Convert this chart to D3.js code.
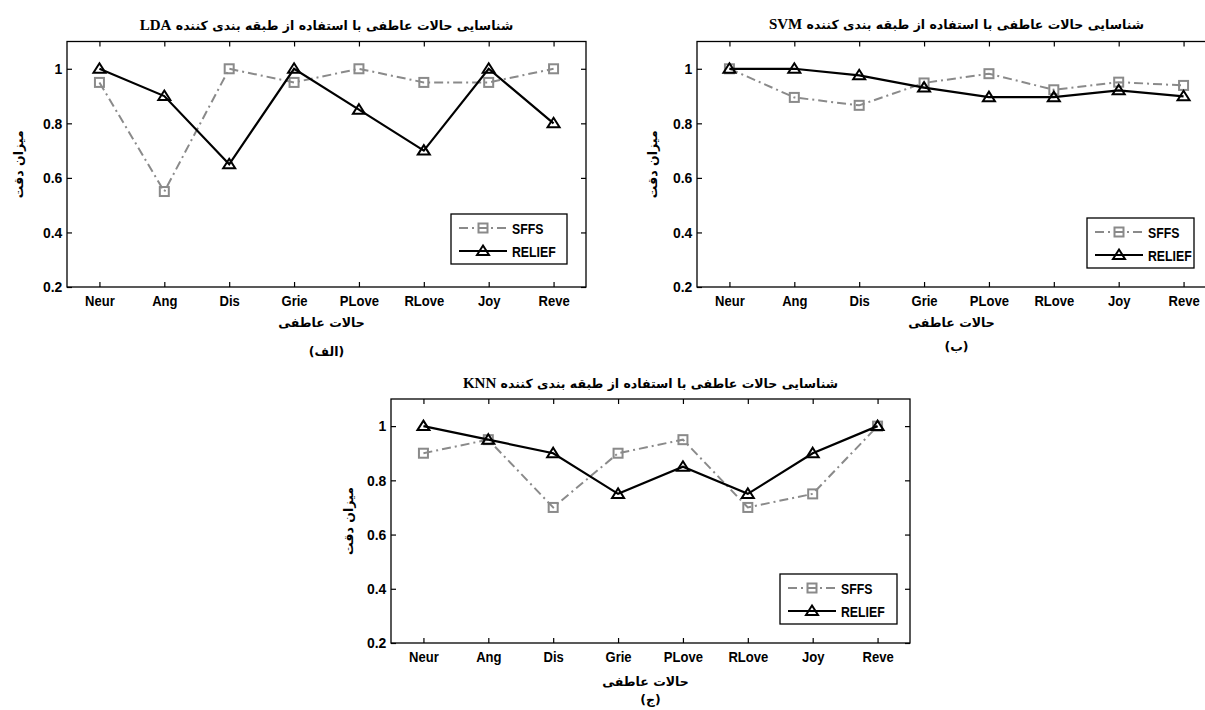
<!DOCTYPE html>
<html>
<head>
<meta charset="utf-8">
<script src="https://cdn.jsdelivr.net/npm/d3@7"></script>
<style>
  body { margin: 0; background: #fff; }
  .tick text { font-family: "Liberation Sans", Arial, sans-serif; font-weight: bold; font-size: 15px; fill: #000; }
  .fa { font-family: "DejaVu Sans", sans-serif; font-weight: bold; }
</style>
</head>
<body>
<div id="chart"></div>
<script>
// categories and values
var categories = ["Neur", "Ang", "Dis", "Grie", "PLove", "RLove", "Joy", "Reve"];
var ldaSffs = [0.95, 0.55, 1.0, 0.95, 1.0, 0.95, 0.95, 1.0];
var ldaRelief = [1.0, 0.9, 0.65, 1.0, 0.85, 0.7, 1.0, 0.8];
var svmSffs = [1.0, 0.895, 0.866, 0.948, 0.982, 0.923, 0.951, 0.939];
var svmRelief = [1.0, 1.0, 0.976, 0.931, 0.896, 0.896, 0.921, 0.899];
var knnSffs = [0.9, 0.95, 0.7, 0.9, 0.95, 0.7, 0.75, 1.0];
var knnRelief = [1.0, 0.95, 0.9, 0.75, 0.85, 0.75, 0.9, 1.0];
var yTicks = [0.2, 0.4, 0.6, 0.8, 1];
var seriesNames = ["SFFS", "RELIEF"];
var classifiers = ["LDA", "SVM", "KNN"];
var captions = ["(الف)", "(ب)", "(ج)"];
var titleText = "شناسایی حالات عاطفی با استفاده از طبقه بندی کننده";
var xTitle = "حالات عاطفی";
var yTitle = "میزان دقت";

var w = 1205, h = 710;

// panel layout (pixels)
var panels = [
    { name: classifiers[0], sffs: ldaSffs, relief: ldaRelief, cap: captions[0],
      x0: 67, x1: 586, y0: 41.5, y1: 287, titleY: 25, xTitleY: 327, capY: 356, yLabX: 18,
      leg: { x: 451, y: 214, w: 116 } },
    { name: classifiers[1], sffs: svmSffs, relief: svmRelief, cap: captions[1],
      x0: 697, x1: 1216, y0: 41.5, y1: 287, titleY: 24, xTitleY: 327, capY: 351, yLabX: 652,
      leg: { x: 1087, y: 218, w: 107 } },
    { name: classifiers[2], sffs: knnSffs, relief: knnRelief, cap: captions[2],
      x0: 391, x1: 910, y0: 399, y1: 643, titleY: 383, xTitleY: 686, capY: 704, yLabX: 348,
      leg: { x: 780, y: 574, w: 117 } }
];

var svg = d3.select("#chart").append("svg")
    .attr("width", w)
    .attr("height", h);

var grey = "#8a8a8a";
var dashDot = "9,4,2,4";

function square(g, x, y) {
    g.append("rect")
        .attr("x", x - 4.5).attr("y", y - 4.5)
        .attr("width", 9).attr("height", 9)
        .attr("fill", "none").attr("stroke", grey).attr("stroke-width", 2);
}

function triangle(g, x, y) {
    g.append("path")
        .attr("d", "M" + x + "," + (y - 5.5) + "L" + (x + 6) + "," + (y + 4) + "L" + (x - 6) + "," + (y + 4) + "Z")
        .attr("fill", "none").attr("stroke", "#000").attr("stroke-width", 2);
}

panels.forEach(function (p) {
    var g = svg.append("g");

    var xScale = d3.scalePoint()
        .domain(categories)
        .range([p.x0, p.x1])
        .padding(0.5);

    var yScale = d3.scaleLinear()
        .domain([0.2, 1.1])
        .range([p.y1, p.y0]);

    // box
    g.append("rect")
        .attr("x", p.x0).attr("y", p.y0)
        .attr("width", p.x1 - p.x0).attr("height", p.y1 - p.y0)
        .attr("fill", "none").attr("stroke", "#000").attr("stroke-width", 1.3);

    // axes, ticks pointing inward
    var bottom = g.append("g")
        .attr("transform", "translate(0," + p.y1 + ")")
        .call(d3.axisBottom(xScale).tickSizeInner(-5).tickSizeOuter(0).tickPadding(8));
    bottom.selectAll("text").attr("transform", "scale(0.87,1)");
    var left = g.append("g")
        .attr("transform", "translate(" + p.x0 + ",0)")
        .call(d3.axisLeft(yScale).tickValues(yTicks).tickFormat(d3.format("")).tickSizeInner(-5).tickSizeOuter(0).tickPadding(5));
    left.selectAll("text").attr("transform", "scale(0.93,1)");
    g.append("g")
        .attr("transform", "translate(0," + p.y0 + ")")
        .call(d3.axisTop(xScale).tickSizeInner(-5).tickSizeOuter(0).tickFormat(""));
    g.append("g")
        .attr("transform", "translate(" + p.x1 + ",0)")
        .call(d3.axisRight(yScale).tickValues(yTicks).tickSizeInner(-5).tickSizeOuter(0).tickFormat(""));
    g.selectAll(".domain").remove();
    g.selectAll(".tick line").attr("stroke", "#000").attr("stroke-width", 1.2);

    // series lines
    var line = d3.line()
        .x(function (d, i) { return xScale(categories[i]); })
        .y(function (d) { return yScale(d); });

    g.append("path")
        .datum(p.sffs)
        .attr("d", line)
        .attr("fill", "none")
        .attr("stroke", grey)
        .attr("stroke-width", 2)
        .attr("stroke-dasharray", dashDot);
    p.sffs.forEach(function (d, i) { square(g, xScale(categories[i]), yScale(d)); });

    g.append("path")
        .datum(p.relief)
        .attr("d", line)
        .attr("fill", "none")
        .attr("stroke", "#000")
        .attr("stroke-width", 2.2);
    p.relief.forEach(function (d, i) { triangle(g, xScale(categories[i]), yScale(d)); });

    // legend
    var lg = g.append("g").attr("transform", "translate(" + p.leg.x + "," + p.leg.y + ")");
    lg.append("rect")
        .attr("width", p.leg.w).attr("height", 50)
        .attr("fill", "#fff").attr("stroke", "#000").attr("stroke-width", 1.3);
    lg.append("line")
        .attr("x1", 8).attr("x2", 56).attr("y1", 14).attr("y2", 14)
        .attr("stroke", grey).attr("stroke-width", 2).attr("stroke-dasharray", dashDot);
    square(lg, 32, 14);
    lg.append("line")
        .attr("x1", 8).attr("x2", 56).attr("y1", 37).attr("y2", 37)
        .attr("stroke", "#000").attr("stroke-width", 2.2);
    triangle(lg, 32, 37);
    lg.selectAll("text.leg")
        .data(seriesNames)
        .enter().append("text")
        .attr("class", "leg")
        .attr("transform", function (d, i) { return "translate(61," + (14 + i * 23 + 5.5) + ") scale(0.82,1)"; })
        .style("font-family", "'Liberation Sans', Arial, sans-serif")
        .style("font-weight", "bold")
        .style("font-size", "15px")
        .text(function (d) { return d; });

    var cx = (p.x0 + p.x1) / 2;

    // title: persian text + classifier name
    var t = g.append("text")
        .attr("class", "fa")
        .attr("x", cx)
        .attr("y", p.titleY + 5)
        .attr("direction", "rtl")
        .attr("text-anchor", "middle")
        .style("font-size", "12.5px");
    t.append("tspan").text(titleText + " ");
    t.append("tspan")
        .style("font-family", "'Liberation Serif', serif")
        .style("font-size", "15px")
        .text(p.name);

    g.append("text")
        .attr("class", "fa")
        .attr("x", cx - 5)
        .attr("y", p.xTitleY)
        .attr("direction", "rtl")
        .attr("text-anchor", "middle")
        .style("font-size", "12.5px")
        .text(xTitle);

    g.append("text")
        .attr("class", "fa")
        .attr("x", cx)
        .attr("y", p.capY)
        .attr("direction", "rtl")
        .attr("text-anchor", "middle")
        .style("font-size", "12.5px")
        .text(p.cap);

    g.append("text")
        .attr("class", "fa")
        .attr("transform", "translate(" + (p.yLabX + 5) + "," + ((p.y0 + p.y1) / 2) + ") rotate(-90)")
        .attr("direction", "rtl")
        .attr("text-anchor", "middle")
        .style("font-size", "12.5px")
        .text(yTitle);
});
</script>
</body>
</html>
